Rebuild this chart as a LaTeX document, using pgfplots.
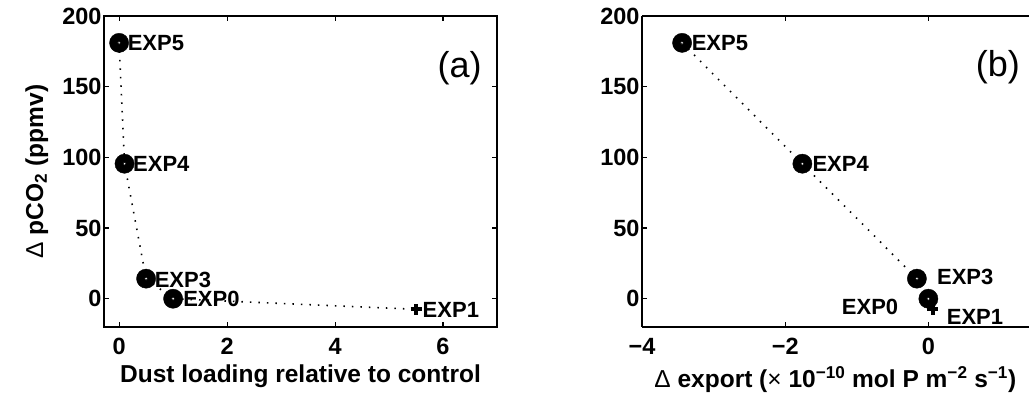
\documentclass[border=0pt]{standalone}
\usepackage{pgfplots}
\pgfplotsset{compat=1.18}
\usepackage{fontspec}
\setmainfont{Liberation Sans}
\newcommand{\tickfont}{\bfseries\fontsize{23.5pt}{25pt}\selectfont}
\newcommand{\axlabfont}{\bfseries\fontsize{24.5pt}{26pt}\selectfont}
\newcommand{\labfont}{\bfseries\fontsize{22pt}{23pt}\selectfont}
\newcommand{\pfont}{\fontsize{36pt}{38pt}\selectfont}
\pgfplotsset{
  mystyle/.style={
    scale only axis,
    height=311pt,
    ymin=-20, ymax=200,
    ytick={0,50,100,150,200},
    yticklabels={0,50,100,150,200},
    tick align=inside,
    major tick length=5pt,
    axis line style={line width=1.2pt},
    every tick/.style={black, line width=1.1pt},
    ticklabel style={font=\tickfont},
    yticklabel style={xshift=1pt},
    xticklabel style={yshift=-8pt},
    label style={font=\axlabfont},
    clip=false,
    /pgf/number format/assume math mode=true,
  },
  dotline/.style={black, line width=1.6pt, dash pattern=on 1.5pt off 7pt},
  ringouter/.style={only marks, mark=*, mark size=9.6pt,
    mark options={fill=black, draw=none}},
  ringinner/.style={only marks, mark=*, mark size=1.5pt,
    mark options={fill=white, draw=none}},
  plusm/.style={only marks, mark=+, mark size=5.5pt,
    mark options={draw=black, line width=4pt}},
}
\begin{document}
\begin{tikzpicture}
\useasboundingbox (0,0) rectangle (1029pt,396pt);
% ---------- panel (a)
\begin{axis}[mystyle,
  at={(104pt,69pt)}, anchor=south west,
  width=393pt,
  xmin=-0.28, xmax=7,
  xtick={0,2,4,6}, xticklabels={0,2,4,6},
  xlabel={Dust loading relative to control},
  xlabel style={at={(axis description cs:0.5,-0.178)}, anchor=base},
  ylabel={{\mdseries Δ} pCO\textsubscript{2} (ppmv)},
  ylabel style={at={(axis description cs:-0.155,0.5)}, anchor=base, rotate=0},
]
\addplot[dotline] coordinates {(0,181) (0.1,95.5) (0.5,14.2) (1,0) (5.5,-7.5)};
\addplot[ringouter] coordinates {(0,181) (0.1,95.5) (0.5,14.2) (1,0)};
\addplot[ringinner] coordinates {(0,181) (0.1,95.5) (0.5,14.2) (1,0)};
\addplot[plusm] coordinates {(5.5,-7.5)};
\node[anchor=west, inner sep=0pt, xshift=8.5pt, font=\labfont] at (axis cs:0,181) {EXP5};
\node[anchor=west, inner sep=0pt, xshift=8.5pt, font=\labfont] at (axis cs:0.1,95.5) {EXP4};
\node[anchor=west, inner sep=0pt, xshift=8.5pt, yshift=-1pt, font=\labfont] at (axis cs:0.5,14.2) {EXP3};
\node[anchor=west, inner sep=0pt, xshift=10pt, font=\labfont] at (axis cs:1,0) {EXP0};
\node[anchor=west, inner sep=0pt, xshift=6.5pt, yshift=-1pt, font=\labfont] at (axis cs:5.5,-7.5) {EXP1};
\node[anchor=east, inner sep=0pt, font=\pfont] at (axis cs:6.72,163) {(a)};
\end{axis}
% ---------- panel (b)
\begin{axis}[mystyle,
  at={(642pt,69pt)}, anchor=south west,
  width=386.6pt,
  xmin=-4, xmax=1.4,
  axis x line*=box, axis y line*=left,
  y axis line style={-},
  xtick={-4,-2,0}, xticklabels={−4,−2,0},
  xlabel={{\mdseries Δ} export ({\mdseries ×} 10\textsuperscript{−10} mol P m\textsuperscript{−2} s\textsuperscript{−1})},
  xlabel style={at={(axis description cs:0.5,-0.195)}, anchor=base},
]
\addplot[dotline] coordinates {(-3.44,181) (-1.76,95.5) (-0.16,14.2) (0,0) (0.06,-7.6)};
\addplot[ringouter] coordinates {(-3.44,181) (-1.76,95.5) (-0.16,14.2) (0,0)};
\addplot[ringinner] coordinates {(-3.44,181) (-1.76,95.5) (-0.16,14.2) (0,0)};
\addplot[plusm] coordinates {(0.06,-7.6)};
\node[anchor=west, inner sep=0pt, xshift=9.5pt, font=\labfont] at (axis cs:-3.44,181) {EXP5};
\node[anchor=west, inner sep=0pt, xshift=10pt, font=\labfont] at (axis cs:-1.76,95.5) {EXP4};
\node[anchor=west, inner sep=0pt, xshift=20pt, yshift=2pt, font=\labfont] at (axis cs:-0.16,14.2) {EXP3};
\node[anchor=east, inner sep=0pt, xshift=-30pt, yshift=-8pt, font=\labfont] at (axis cs:0,0) {EXP0};
\node[anchor=west, inner sep=0pt, xshift=14pt, yshift=-7pt, font=\labfont] at (axis cs:0.06,-7.6) {EXP1};
\node[anchor=east, inner sep=0pt, font=\pfont] at (axis cs:1.28,163.5) {(b)};
\end{axis}
\end{tikzpicture}
\end{document}
